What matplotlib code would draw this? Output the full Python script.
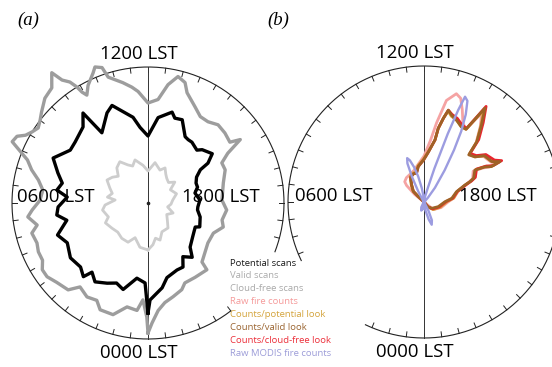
import numpy as np
import matplotlib
matplotlib.use("Agg")
import matplotlib.pyplot as plt

# value that sits on the outer ring of both dials
RING = 136

# (a) scans by local solar time (hours), radius in ring units
potential_hours = [0.0, 0.14, 0.56, 1.07, 1.43, 1.8, 2.26, 2.6, 2.75, 3.1, 3.65, 4.25, 4.7, 5.2, 5.5,
                   5.83, 6.28, 6.54, 6.87, 7.23, 7.69, 8.28, 8.66, 9.3, 9.61, 9.78, 10.37, 10.65, 11.34,
                   11.6, 12.0, 12.45, 12.99, 13.17, 13.49, 13.95, 14.16, 14.39, 14.85, 15.03, 15.5,
                   15.76, 15.84, 16.13, 16.5, 16.82, 17.2, 17.78, 18.3, 18.53, 19.0, 19.65, 19.8,
                   20.47, 21.09, 21.39, 21.8, 22.09, 22.44, 23.05, 23.37, 23.92]
potential_r = [110, 80, 76, 90, 86, 90, 95, 89, 98, 93, 95, 90, 96, 83, 92,
               90, 81, 92, 88, 95, 105, 94, 95, 100, 111, 84, 99, 104, 87,
               76, 67, 86, 94, 89, 90, 76, 75, 75, 72, 76, 81,
               72, 62, 55, 52, 52, 48, 52, 50, 50, 54, 57, 53,
               56, 61, 70, 64, 73, 73, 77, 86, 97]

valid_hours = [0.0, 0.04, 0.2, 0.39, 0.76, 1.16, 1.61, 1.85, 2.2, 2.6, 2.84, 3.27, 3.59, 3.85, 4.1,
               4.4, 4.68, 5.03, 5.25, 5.56, 5.77, 6.1, 6.47, 6.79, 7.06, 7.31, 7.5, 7.62, 7.8, 7.93,
               8.1, 8.29, 8.5, 8.7, 9.03, 9.34, 9.57, 9.67, 9.81, 9.9, 9.95, 10.03, 10.2, 10.47,
               10.58, 10.75, 10.83, 11.21, 11.47, 11.66, 12.0, 12.37, 12.64, 12.89, 13.14, 13.3,
               13.74, 14.08, 14.43, 14.79, 15.18, 15.56, 15.7, 15.87, 16.1, 16.45, 17.0, 17.85,
               18.34, 18.86, 19.18, 19.65, 20.25, 21.17, 21.24, 21.84, 22.35, 22.58, 23.0, 23.36,
               23.64, 23.87]
valid_r = [130, 114, 97, 108, 106, 117, 117, 110, 112, 108, 118, 121, 125, 125, 120,
           120, 118, 120, 113, 121, 116, 108, 106, 112, 121, 128, 140, 149, 147, 140,
           136, 133, 136, 140, 147, 150, 162, 150, 144, 136, 129, 124, 132, 141,
           146, 143, 132, 123, 117, 112, 100, 104, 120, 130, 126, 117,
           107, 101, 101, 105, 104, 102, 112, 94, 84, 84, 78, 74,
           79, 76, 79, 72, 72, 80, 89, 88, 88, 93, 97, 101,
           108, 120]

cloudfree_hours = [0.0, 0.69, 1.36, 1.8, 2.44, 3.07, 3.68, 4.33, 4.71, 5.41, 5.82, 6.35, 6.55, 7.0,
                   7.43, 7.95, 8.39, 8.8, 9.23, 9.71, 10.15, 10.5, 10.88, 11.5, 12.0, 12.66, 13.33,
                   13.73, 14.1, 14.48, 15.0, 15.47, 15.96, 16.8, 17.53, 18.2, 18.75, 19.45, 20.1,
                   20.79, 21.42, 22.28, 22.8, 23.2, 23.55]
cloudfree_r = [47, 45, 37, 44, 44, 42, 44, 47, 42, 46, 43, 33, 41, 37,
               41, 47, 44, 40, 47, 50, 43, 40, 45, 38, 32, 41, 35,
               39, 34, 31, 29, 34, 26, 30, 25, 23, 20, 27, 22,
               26, 32, 32, 39, 36, 42]

# (b) fire counts, traced as outlines from the centre
leaf_hours = [8.5, 8.9, 9.0, 9.6, 10.1, 10.6, 11.05, 11.39, 11.96, 12.33, 12.67, 12.73, 12.87, 12.99,
              13.18, 13.45, 13.75, 14.0, 14.1, 14.2, 14.45, 14.75, 14.9, 15.23, 15.5, 15.95, 16.13,
              16.15, 16.0, 15.86, 16.29, 16.41, 16.5, 16.83, 17.5, 17.94, 19.2, 20.6, 21.4, 22.0]
valid_look_r = [0, 8, 15, 21, 28, 30, 30, 36, 42, 50, 63, 75, 86, 95,
                91, 88, 84, 84, 96, 112, 96, 80, 65, 68, 76, 79, 86,
                76, 70, 60, 55, 50, 44, 34, 28, 21, 15, 10, 6, 0]
cloud_look_r = [0, 8, 15, 21, 28, 30, 30, 36, 42, 50, 63, 75, 86, 95,
                92, 90, 86, 85, 97, 114, 99, 83, 67, 70, 78, 82, 88,
                78, 72, 62, 57, 52, 46, 35, 29, 22, 16, 11, 6, 0]
potential_look_r = [0, 9, 16, 22, 29, 31, 31, 37, 43, 51, 63, 75, 86, 94,
                    90, 88, 84, 84, 95, 110, 95, 80, 66, 68, 76, 79, 85,
                    76, 71, 61, 56, 51, 45, 35, 30, 23, 17, 12, 7, 0]

raw_hours = [8.4, 8.6, 8.9, 9.1, 9.6, 10.2, 10.8, 11.4, 12.0, 12.4, 12.6, 12.83, 13.11, 13.3, 13.5,
             13.75, 14.0, 14.1, 14.2, 14.45, 14.75, 14.9, 15.23, 15.5, 15.95, 16.1, 16.12, 16.0,
             15.86, 16.29, 16.5, 16.83, 17.5, 18.0, 19.2, 20.6, 21.6]
raw_r = [0, 12, 24, 28, 30, 31, 33, 38, 46, 62, 80, 104, 113, 110, 100,
         88, 84, 94, 106, 94, 79, 66, 69, 75, 78, 82, 74, 68,
         58, 54, 46, 36, 30, 24, 18, 12, 0]

modis_hours = [0.0, 0.6, 1.2, 1.8, 2.5, 9.8, 10.1, 10.3, 10.45, 10.6, 10.75, 10.95, 11.15, 11.4,
               11.7, 12.2, 12.7, 13.0, 13.15, 13.28, 13.36, 13.42, 13.55, 13.7, 13.85, 14.0, 14.2,
               14.5, 14.8, 15.3, 21.9, 22.2, 22.45, 22.75, 23.0, 23.4, 24.0]
modis_r = [4, 7, 9, 6, 1, 2, 12, 28, 42, 47, 44, 36, 26, 14,
           5, 2, 5, 14, 35, 72, 98, 113, 110, 97, 80, 60, 38,
           18, 6, 1, 2, 10, 20, 24, 18, 8, 4]

legend_names = ['Potential scans', 'Valid scans', 'Cloud-free scans', 'Raw fire counts',
                'Counts/potential look', 'Counts/valid look', 'Counts/cloud-free look',
                'Raw MODIS fire counts']
legend_colors = ['#1a1a1a', '#ababab', '#a9a9a9', '#f59a9a',
                 '#d4a43c', '#9a6430', '#ec2f3a', '#9c9cd8']

LABEL_FONT = 'Open Sans'


def th(hours):
    # 24 h round the dial
    return np.asarray(hours, dtype=float) / 24.0 * 2 * np.pi


def closed(hours, r):
    return th(list(hours) + [hours[0] + 24]), list(r) + [r[0]]


def dial(ax, gap, x06, x18):
    ax.set_theta_zero_location('S')
    ax.set_theta_direction(-1)
    ax.set_ylim(0, RING)
    ax.axis('off')
    g0, g1 = gap
    arc = np.linspace(g1, g0 + 24, 500)
    ax.plot(th(arc), np.full(arc.shape, RING), color='#222222', lw=0.8, clip_on=False)
    for h in np.arange(0, 24, 0.5):
        if g0 < h < g1:
            continue
        ax.plot(th([h, h]), [RING, RING * 0.963], color='#222222', lw=0.7, clip_on=False)
    ax.plot(th([12, 12, 0, 0]), [RING, 0, 0, RING], color='#333333', lw=0.7, clip_on=False)
    ax.plot([0], [0], 'o', ms=1.6, color='#222222')
    kw = dict(transform=ax.transAxes, fontsize=13.4, family=LABEL_FONT, zorder=6, va='center')
    ax.text(0.466, 1.048, '1200 LST', ha='center', **kw)
    ax.text(0.466, -0.052, '0000 LST', ha='center', **kw)
    ax.text(x06, 0.522, '0600 LST', ha='left', **kw)
    ax.text(x18, 0.522, '1800 LST', ha='right', **kw)


fig = plt.figure(figsize=(5.52, 3.67), dpi=100)

axa = fig.add_axes([12 / 552, 28 / 367, 272 / 552, 272 / 367], projection='polar')
dial(axa, (19.4, 21.5), 0.018, 0.912)
t, r = closed(valid_hours, valid_r)
axa.plot(t, r, color='#9d9d9d', lw=2.4, clip_on=False, zorder=2)
t, r = closed(cloudfree_hours, cloudfree_r)
axa.plot(t, r, color='#cdcdcd', lw=2.0, clip_on=False, zorder=2)
t, r = closed(potential_hours, potential_r)
axa.plot(t, r, color='#000000', lw=2.4, clip_on=False, zorder=3)

axb = fig.add_axes([288 / 552, 29 / 367, 272 / 552, 272 / 367], projection='polar')
dial(axb, (1.7, 4.3), 0.026, 0.915)
axb.plot(th(raw_hours), raw_r, color='#f5a3a3', lw=2.0, clip_on=False, zorder=2)
axb.plot(th(leaf_hours), potential_look_r, color='#d4a43c', lw=2.0, clip_on=False, zorder=2.1)
axb.plot(th(leaf_hours), cloud_look_r, color='#e8262e', lw=2.0, clip_on=False, zorder=2.2)
axb.plot(th(leaf_hours), valid_look_r, color='#9e6226', lw=2.0, clip_on=False, zorder=2.3)
axb.plot(th(modis_hours), modis_r, color='#9c9ce0', lw=1.7, clip_on=False, zorder=2.5)

# panel letters
fig.text(17 / 552, 1 - 20 / 367, '(a)', fontsize=13.5, family='Liberation Serif',
         style='italic', va='center', ha='left')
fig.text(267 / 552, 1 - 20 / 367, '(b)', fontsize=13.5, family='Liberation Serif',
         style='italic', va='center', ha='left')

# legend as coloured text
for i, (name, col) in enumerate(zip(legend_names, legend_colors)):
    fig.text(230 / 552, 1 - (263 + i * 12.9) / 367, name, color=col, fontsize=6.8,
             family=LABEL_FONT, va='center', ha='left')

fig.savefig('out.png', dpi=100)
